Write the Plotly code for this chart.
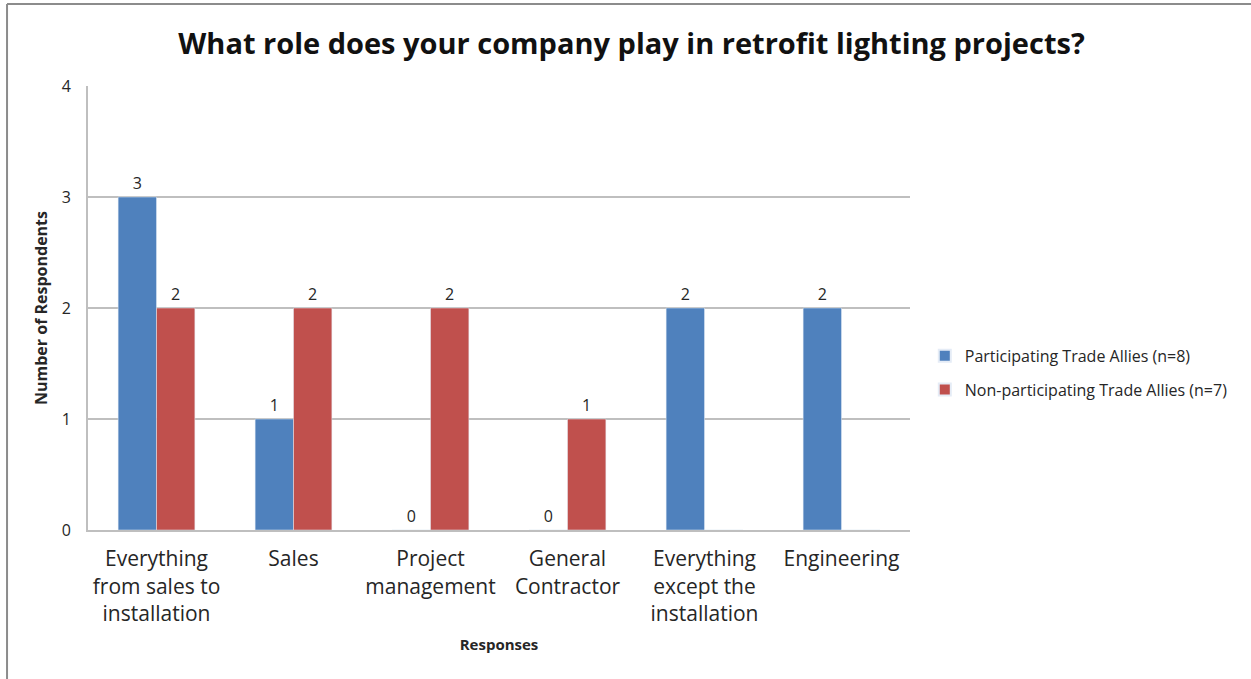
import plotly.graph_objects as go

categories = ["Everything<br>from sales to<br>installation", "Sales", "Project<br>management",
              "General<br>Contractor", "Everything<br>except the<br>installation", "Engineering"]
participating = [3, 1, 0, 0, 2, 2]
non_participating = [2, 2, 2, 1, 0, 0]
participating_labels = ["3", "1", "0", "0", "2", "2"]
non_participating_labels = ["2", "2", "2", "1", "", ""]
y_ticks = [0, 1, 2, 3, 4]

FONT = "'Open Sans', Lato, sans-serif"
TXT = "#262626"

fig = go.Figure()
fig.add_trace(go.Bar(
    x=categories, y=participating, name="Participating Trade Allies (n=8)", legendgroup="a",
    marker=dict(color="#4F81BD"), text=participating_labels, textposition="outside",
    textfont=dict(size=16, color=TXT, family=FONT), cliponaxis=False))
fig.add_trace(go.Bar(
    x=categories, y=non_participating, name="Non-participating Trade Allies (n=7)", legendgroup="b",
    marker=dict(color="#C0504D"), text=non_participating_labels, textposition="outside",
    textfont=dict(size=16, color=TXT, family=FONT), cliponaxis=False))

fig.update_layout(
    width=1251, height=679,
    margin=dict(l=88, r=341, t=86, b=149),
    paper_bgcolor="white", plot_bgcolor="white",
    barmode="group", bargap=0.44, bargroupgap=0,
    font=dict(family=FONT, color=TXT, size=16),
    title=dict(text="<b>What role does your company play in retrofit lighting projects?</b>",
               x=0.5 + 6 / 1251, xref="container", xanchor="center", y=1 - 44 / 679, yanchor="middle",
               font=dict(size=29, color="#111", family=FONT)),
    legend=dict(x=1.018, y=0.354, xanchor="left", yanchor="middle",
                font=dict(size=16, color=TXT, family=FONT), itemsizing="constant",
                tracegroupgap=10, bgcolor="rgba(0,0,0,0)"),
    showlegend=True,
)
fig.update_xaxes(
    showline=True, linecolor="#BFBFBF", linewidth=2, ticks="",
    tickfont=dict(size=21, color=TXT, family=FONT), ticklabelstandoff=9,
    title=dict(text="<b>Responses</b>", font=dict(size=15, color=TXT, family=FONT), standoff=14),
)
fig.update_yaxes(
    range=[0, 4], tickvals=y_ticks, showgrid=True, gridcolor="#BFBFBF", gridwidth=1.5,
    showline=True, linecolor="#BFBFBF", linewidth=2, ticks="", zeroline=False,
    tickfont=dict(size=16, color=TXT, family=FONT), ticklabelstandoff=12,
    title=dict(text="<b>Number of Respondents</b>", font=dict(size=16, color=TXT, family=FONT), standoff=10),
)
# outer chart frame (top and left edges visible)
fig.add_shape(type="line", xref="paper", yref="paper", x0=-0.0985, x1=1.6, y0=1.1847, y1=1.1847,
              line=dict(color="#8C8C8C", width=2))
fig.add_shape(type="line", xref="paper", yref="paper", x0=-0.0985, x1=-0.0985, y0=1.1847, y1=-0.5,
              line=dict(color="#8C8C8C", width=2))

fig.write_html("out.html", config={"displayModeBar": False},
               post_script="document.body.style.margin='0';")
